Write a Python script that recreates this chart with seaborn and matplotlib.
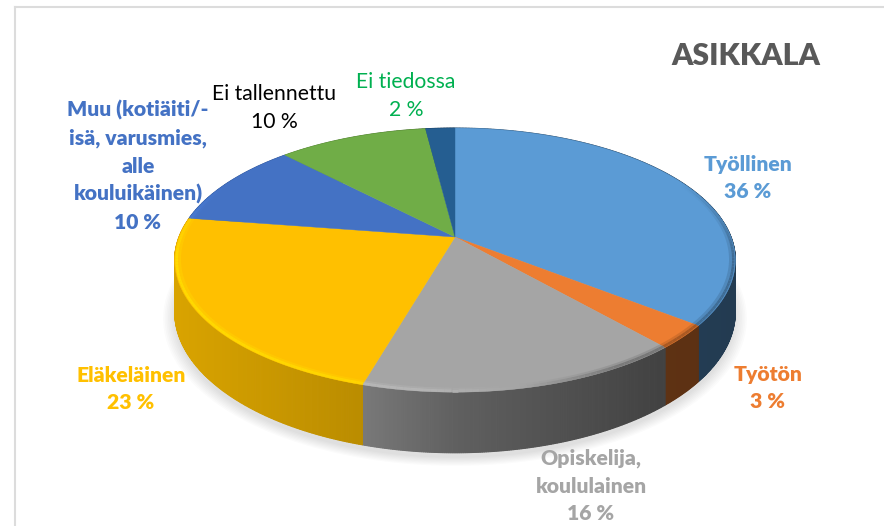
import numpy as np
import matplotlib
matplotlib.use("Agg")
import matplotlib.pyplot as plt
import seaborn as sns

# starts at twelve o'clock, goes clockwise
labels = ["Työllinen", "Työtön", "Opiskelija,\nkoululainen", "Eläkeläinen",
          "Muu (kotiäiti/-\nisä, varusmies,\nalle\nkouluikäinen)", "Ei tallennettu", "Ei tiedossa"]
shares = [35.6, 2.9, 16.0, 22.9, 10.4, 10.2, 2.0]
slice_colors = ["#5B9BD5", "#ED7D31", "#A5A5A5", "#FFC000", "#4472C4", "#70AD47", "#255E91"]
text_colors = ["#5B9BD5", "#ED7D31", "#A5A5A5", "#FFC000", "#4472C4", "#000000", "#00B050"]
bold_labels = [True, True, True, True, True, False, False]
label_pos = [(748, 178), (768, 388), (591, 486), (131, 389), (138, 166), (274, 108), (406, 96)]
title = "ASIKKALA"

# tilted disc seen in perspective (pixels of the picture)
cx, cy = 455, 237
rx, ry = 276, 128
tilt = 0.175
thick = 50

sns.set_theme(style="white")
plt.rcParams["font.family"] = ["Lato", "DejaVu Sans"]
palette = sns.color_palette(slice_colors)


def project(ang, r=1.0):
    u = r * np.sin(ang)
    v = r * np.cos(ang)
    d = 1 + tilt * v
    return cx + rx * u / d, cy - ry * v / d, d


def wall_shade(x):
    return np.interp(x, [175, 363, 455, 660, 735], [0.85, 0.73, 0.58, 0.40, 0.38])


def rim_shade(x):
    return np.interp(x, [175, 420, 520, 620, 735], [1.17, 1.12, 1.0, 0.68, 0.62])


def tint(col, k):
    return tuple(np.clip(np.array(col) * k, 0, 1))


fig = plt.figure(figsize=(8.84, 5.26), dpi=100)
ax = fig.add_axes([15 / 884, 0, 869 / 884, 519 / 526])
ax.set_xlim(15, 884)
ax.set_ylim(526, 7)
ax.set_xticks([])
ax.set_yticks([])
for side in ["right", "bottom"]:
    ax.spines[side].set_visible(False)
for side in ["left", "top"]:
    ax.spines[side].set_color("#DCDCDC")
    ax.spines[side].set_linewidth(1.5)

edges = np.cumsum([0] + shares) / sum(shares) * 2 * np.pi

# soft shadow under the disc
full = np.linspace(0, 2 * np.pi, 240)
for grow in np.linspace(1.04, 1.0, 8):
    x, y, d = project(full, grow)
    ax.fill(x, y + thick / d + 5, color="black", alpha=0.016, lw=0, zorder=1)

# side wall, shaded piece by piece
for i in range(len(shares)):
    angs = np.linspace(edges[i], edges[i + 1], max(int(shares[i] * 10), 3) + 1)
    for a0, a1 in zip(angs[:-1], angs[1:]):
        x0, y0, d0 = project(a0)
        x1, y1, d1 = project(a1)
        col = tint(palette[i], wall_shade((x0 + x1) / 2))
        ax.fill([x0, x1, x1, x0], [y0, y1, y1 + thick / d1, y0 + thick / d0],
                color=col, lw=0.8, zorder=2)

# top face
for i in range(len(shares)):
    angs = np.linspace(edges[i], edges[i + 1], int(shares[i] * 3) + 2)
    x, y, _ = project(angs)
    ax.fill(np.r_[cx, x], np.r_[cy, y], color=palette[i], lw=0.3, zorder=3)

# bevel along the outer edge, fading out towards the back
for i in range(len(shares)):
    angs = np.linspace(edges[i], edges[i + 1], max(int(shares[i] * 3), 3) + 1)
    for a0, a1 in zip(angs[:-1], angs[1:]):
        fade = np.clip((0.45 - np.cos((a0 + a1) / 2)) / 0.6, 0, 1)
        if fade == 0:
            continue
        for r, w, al in [(0.993, 2.0, 0.8), (0.983, 2.0, 0.3)]:
            x, y, _ = project(np.array([a0, a1]), r)
            ax.plot(x, y, color=tint(palette[i], rim_shade(x.mean())), lw=w, alpha=al * fade,
                    solid_capstyle="butt", zorder=4)

for lab, val, col, bold, (tx, ty) in zip(labels, shares, text_colors, bold_labels, label_pos):
    ax.text(tx, ty, f"{lab}\n{val:.0f} %", color=col, fontsize=15.2,
            ha="center", va="center", fontweight="heavy" if bold else "normal",
            linespacing=1.53, zorder=5)

ax.text(746, 56, title, color="#595959", fontsize=21.7, fontweight="heavy",
        ha="center", va="center", zorder=5)

fig.savefig("out.png", dpi=100, facecolor="white")
